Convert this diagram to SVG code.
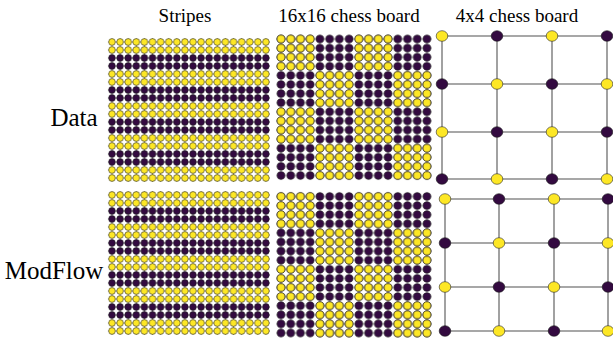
<svg xmlns="http://www.w3.org/2000/svg" xmlns:xlink="http://www.w3.org/1999/xlink" width="613" height="339" viewBox="0 0 613 339">
<style>
.ln{stroke:#858585;stroke-width:0.8;fill:none}
.y{fill:#fde725;stroke:#2a2a2a;stroke-width:0.6}
.p{fill:#330a40;stroke:#1a1a1a;stroke-width:0.6}
.big .y,.big .p{stroke-width:0.9}
.edge{stroke:#8a8a8a;stroke-width:1.6;fill:none}
.t{font-family:"Liberation Serif","Times New Roman",serif;fill:#000}
.h{font-size:19px;text-anchor:middle}
.r{font-size:25px;text-anchor:middle}
</style>
<defs>
<pattern id="st" patternUnits="userSpaceOnUse" x="107.95" y="38" width="8.1" height="32">
<path d="M4.05 0V32M0 4H8.1M0 12H8.1M0 20H8.1M0 28H8.1" class="ln"/>
<circle cx="4.05" cy="4" r="3.4" class="y"/>
<circle cx="4.05" cy="12" r="3.4" class="y"/>
<circle cx="4.05" cy="20" r="3.4" class="p"/>
<circle cx="4.05" cy="28" r="3.4" class="p"/>
</pattern>
<pattern id="cy" patternUnits="userSpaceOnUse" x="276.135" y="34.45" width="9.73" height="9.1">
<path d="M4.865 0V9.1M0 4.55H9.73" class="ln"/>
<ellipse cx="4.865" cy="4.55" rx="3.9" ry="3.8" class="y"/>
</pattern>
<pattern id="cp" patternUnits="userSpaceOnUse" x="276.135" y="34.45" width="9.73" height="9.1">
<path d="M4.865 0V9.1M0 4.55H9.73" class="ln"/>
<ellipse cx="4.865" cy="4.55" rx="3.9" ry="3.8" class="p"/>
</pattern>
<ellipse id="ny" rx="5.8" ry="5.3" class="y"/>
<ellipse id="np" rx="5.8" ry="5.3" class="p"/>
<g id="chess">
<rect x="276.135" y="34.45" width="155.68" height="145.6" fill="url(#cp)"/>
<g fill="url(#cy)">
<rect x="276.135" y="34.45" width="38.92" height="36.4"/>
<rect x="353.975" y="34.45" width="38.92" height="36.4"/>
<rect x="315.055" y="70.85" width="38.92" height="36.4"/>
<rect x="392.895" y="70.85" width="38.92" height="36.4"/>
<rect x="276.135" y="107.25" width="38.92" height="36.4"/>
<rect x="353.975" y="107.25" width="38.92" height="36.4"/>
<rect x="315.055" y="143.65" width="38.92" height="36.4"/>
<rect x="392.895" y="143.65" width="38.92" height="36.4"/>
</g>
</g>
</defs>

<g id="titles">
<text class="t h" x="185" y="22">Stripes</text>
<text class="t h" x="349" y="22">16x16 chess board</text>
<text class="t h" x="517" y="22">4x4 chess board</text>
</g>
<g id="row-labels">
<text class="t r" x="74" y="126">Data</text>
<text class="t r" x="54" y="279">ModFlow</text>
</g>

<g id="data-stripes"><rect x="107.95" y="38" width="162" height="144" fill="url(#st)"/></g>
<g id="modflow-stripes" transform="translate(0,153)"><rect x="107.95" y="38" width="162" height="144" fill="url(#st)"/></g>
<g id="data-chess16"><use xlink:href="#chess"/></g>
<g id="modflow-chess16" transform="translate(0,157.5)"><use xlink:href="#chess"/></g>

<g id="connectors">
<path class="edge" d="M442 36H607M442 84H607M442 132H607M442 179H607M442 36V179M497 36V179M552 36V179M607 36V179"/>
<path class="edge" d="M445 199H608M445 243H608M445 287H608M445 331H608M445 199V331M499 199V331M554 199V331M608 199V331"/>
</g>

<g id="data-chess4" class="big">
<g id="d00"><use href="#ny" x="442" y="36"/></g>
<g id="d01"><use href="#np" x="497" y="36"/></g>
<g id="d02"><use href="#ny" x="552" y="36"/></g>
<g id="d03"><use href="#np" x="607" y="36"/></g>
<g id="d10"><use href="#np" x="442" y="84"/></g>
<g id="d11"><use href="#ny" x="497" y="84"/></g>
<g id="d12"><use href="#np" x="552" y="84"/></g>
<g id="d13"><use href="#ny" x="607" y="84"/></g>
<g id="d20"><use href="#ny" x="442" y="132"/></g>
<g id="d21"><use href="#np" x="497" y="132"/></g>
<g id="d22"><use href="#ny" x="552" y="132"/></g>
<g id="d23"><use href="#np" x="607" y="132"/></g>
<g id="d30"><use href="#np" x="442" y="179"/></g>
<g id="d31"><use href="#ny" x="497" y="179"/></g>
<g id="d32"><use href="#np" x="552" y="179"/></g>
<g id="d33"><use href="#ny" x="607" y="179"/></g>
</g>
<g id="modflow-chess4" class="big">
<g id="m00"><use href="#ny" x="445" y="199"/></g>
<g id="m01"><use href="#np" x="499" y="199"/></g>
<g id="m02"><use href="#ny" x="554" y="199"/></g>
<g id="m03"><use href="#np" x="608" y="199"/></g>
<g id="m10"><use href="#np" x="445" y="243"/></g>
<g id="m11"><use href="#ny" x="499" y="243"/></g>
<g id="m12"><use href="#np" x="554" y="243"/></g>
<g id="m13"><use href="#ny" x="608" y="243"/></g>
<g id="m20"><use href="#ny" x="445" y="287"/></g>
<g id="m21"><use href="#np" x="499" y="287"/></g>
<g id="m22"><use href="#ny" x="554" y="287"/></g>
<g id="m23"><use href="#np" x="608" y="287"/></g>
<g id="m30"><use href="#np" x="445" y="331"/></g>
<g id="m31"><use href="#ny" x="499" y="331"/></g>
<g id="m32"><use href="#np" x="554" y="331"/></g>
<g id="m33"><use href="#ny" x="608" y="331"/></g>
</g>
</svg>
